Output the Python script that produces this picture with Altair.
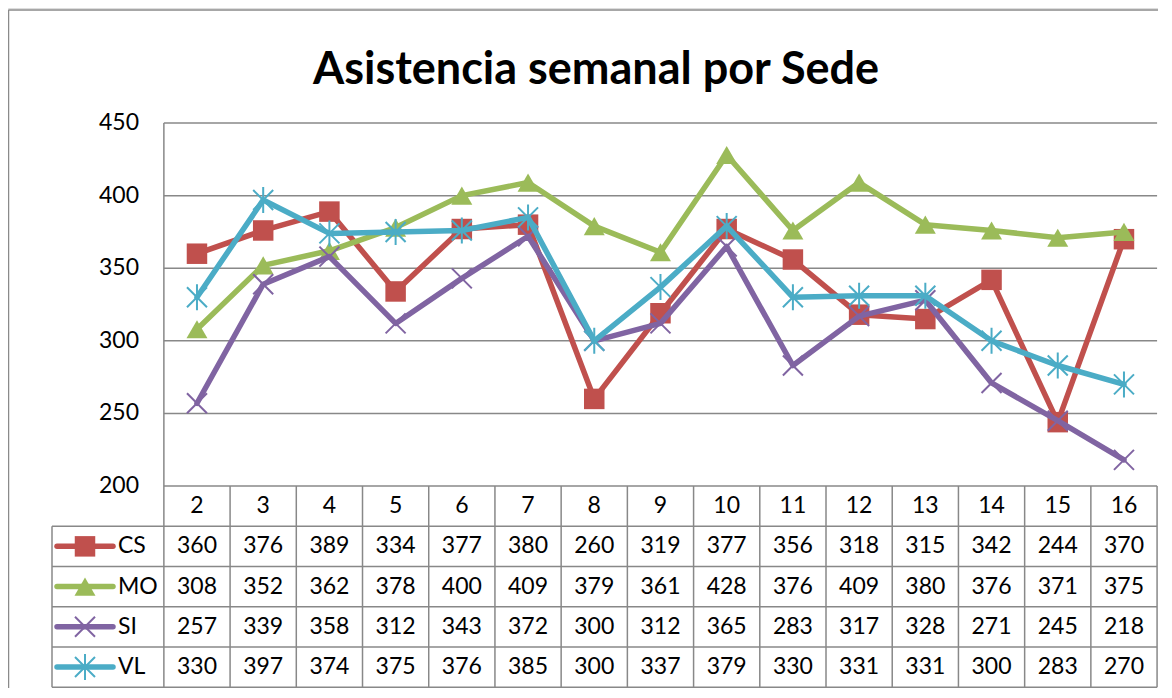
import altair as alt
import pandas as pd

# ---------------- data ----------------
weeks = [2, 3, 4, 5, 6, 7, 8, 9, 10, 11, 12, 13, 14, 15, 16]
cs = [360, 376, 389, 334, 377, 380, 260, 319, 377, 356, 318, 315, 342, 244, 370]
mo = [308, 352, 362, 378, 400, 409, 379, 361, 428, 376, 409, 380, 376, 371, 375]
si = [257, 339, 358, 312, 343, 372, 300, 312, 365, 283, 317, 328, 271, 245, 218]
vl = [330, 397, 374, 375, 376, 385, 300, 337, 379, 330, 331, 331, 300, 283, 270]
series_names = ["CS", "MO", "SI", "VL"]
series_values = [cs, mo, si, vl]
series_colors = ["#C0504D", "#9BBB59", "#8064A2", "#4BACC6"]
y_ticks = [200, 250, 300, 350, 400, 450]
title_text = "Asistencia semanal por Sede"

# ---------------- layout (scale domains) ----------------
W, H = 1150, 680
PX_X = 66.214          # px per week
PX_Y = 1.452           # px per attendance unit
X0 = -0.854
X1 = X0 + W / PX_X
ROW = 27.7             # table row height in y units
Y0 = 200 - 5 * ROW - 0.6
Y1 = Y0 + H / PX_Y
XL = X0 + 44 / PX_X    # left edge of legend column
FONT = "Lato"
GRID = "#888888"
FS = 23

xs = alt.Scale(domain=[X0, X1], nice=False, zero=False)
ys = alt.Scale(domain=[Y0, Y1], nice=False, zero=False)


def X(f="x"):
    return alt.X(f"{f}:Q", scale=xs, axis=None)


def Y(f="y"):
    return alt.Y(f"{f}:Q", scale=ys, axis=None)


layers = []

# outer frame (left and top edges)
frame_h = pd.DataFrame({"x": [X0 + 0.5 / PX_X], "x2": [X1 + 1], "y": [Y1 - 2 / PX_Y]})
frame_v = pd.DataFrame({"x": [X0 + 0.5 / PX_X], "y": [Y1 - 2 / PX_Y], "y2": [Y0 - 5]})
layers.append(alt.Chart(frame_h).mark_rule(color="#8a8a8a", strokeWidth=1.5).encode(
    x=X(), x2="x2:Q", y=Y()))
layers.append(alt.Chart(frame_v).mark_rule(color="#8a8a8a", strokeWidth=1.5).encode(
    x=X(), y=Y(), y2="y2:Q"))

# title
title_df = pd.DataFrame({"x": [X0 + 588 / PX_X], "y": [Y1 - 62 / PX_Y], "t": [title_text]})
layers.append(alt.Chart(title_df).mark_text(
    font=FONT, fontSize=45, fontWeight="bold", color="black", baseline="middle", align="center"
).encode(x=X(), y=Y(), text="t:N"))

# gridlines
grid_df = pd.DataFrame({"y": [v for v in y_ticks if v > 200], "x": [1.5] * 5, "x2": [16.5] * 5})
layers.append(alt.Chart(grid_df).mark_rule(color=GRID, strokeWidth=1.5).encode(
    x=X(), x2="x2:Q", y=Y()))

# y tick labels
yl = pd.DataFrame({"x": [X0 + 131 / PX_X] * len(y_ticks), "y": y_ticks, "t": [str(v) for v in y_ticks]})
layers.append(alt.Chart(yl).mark_text(font=FONT, fontSize=FS, color="black", baseline="middle",
                                      align="right").encode(x=X(), y=Y(), text="t:N"))

# table horizontal lines
hl = pd.DataFrame({
    "y": [200] + [200 - ROW * i for i in range(1, 6)],
    "x": [1.5] + [XL] * 5,
    "x2": [16.5] * 6,
})
layers.append(alt.Chart(hl).mark_rule(color=GRID, strokeWidth=1.5).encode(
    x=X(), x2="x2:Q", y=Y()))

# table vertical lines
vlines = pd.DataFrame({
    "x": [XL, 1.5] + [w + 0.5 for w in weeks],
    "y": [200 - ROW, 450] + [200] * len(weeks),
    "y2": [200 - 5 * ROW] * (2 + len(weeks)),
})
layers.append(alt.Chart(vlines).mark_rule(color=GRID, strokeWidth=1.5).encode(
    x=X(), y=Y(), y2="y2:Q"))

# header row (weeks)
hdr = pd.DataFrame({"x": weeks, "y": [200 - ROW / 2] * len(weeks), "t": [str(w) for w in weeks]})
layers.append(alt.Chart(hdr).mark_text(font=FONT, fontSize=FS, color="black", baseline="middle").encode(
    x=X(), y=Y(), text="t:N"))

shapes = {
    "CS": dict(shape="square", filled=True, size=420),
    "MO": dict(shape="triangle-up", filled=True, size=440),
    "SI": dict(shape="M-1,-1L1,1M1,-1L-1,1", filled=False, size=400, strokeWidth=2),
    "VL": dict(shape="M-1,-1L1,1M1,-1L-1,1M0,-1.3L0,1.3", filled=False, size=400, strokeWidth=2),
}

leg_a = X0 + 49 / PX_X
leg_b = X0 + 105 / PX_X
leg_c = (leg_a + leg_b) / 2
leg_t = X0 + 110 / PX_X

for i, (name, vals, col) in enumerate(zip(series_names, series_values, series_colors)):
    df = pd.DataFrame({"x": weeks, "y": vals})
    layers.append(alt.Chart(df).mark_line(color=col, strokeWidth=5.5, strokeJoin="round",
                                          strokeCap="round").encode(x=X(), y=Y()))
    layers.append(alt.Chart(df).mark_point(color=col, opacity=1, **shapes[name]).encode(x=X(), y=Y()))

    ry = 200 - ROW * (i + 1.5)
    # table values
    tdf = pd.DataFrame({"x": weeks, "y": [ry] * len(weeks), "t": [str(v) for v in vals]})
    layers.append(alt.Chart(tdf).mark_text(font=FONT, fontSize=FS, color="black", baseline="middle").encode(
        x=X(), y=Y(), text="t:N"))
    # legend key
    ldf = pd.DataFrame({"x": [leg_a], "x2": [leg_b], "y": [ry]})
    layers.append(alt.Chart(ldf).mark_rule(color=col, strokeWidth=5.5, strokeCap="round").encode(
        x=X(), x2="x2:Q", y=Y()))
    pdf = pd.DataFrame({"x": [leg_c], "y": [ry]})
    layers.append(alt.Chart(pdf).mark_point(color=col, opacity=1, **shapes[name]).encode(x=X(), y=Y()))
    ndf = pd.DataFrame({"x": [leg_t], "y": [ry], "t": [name]})
    layers.append(alt.Chart(ndf).mark_text(font=FONT, fontSize=FS, color="black", baseline="middle",
                                           align="left").encode(x=X(), y=Y(), text="t:N"))

chart = alt.layer(*layers).properties(
    width=W, height=H, padding=0,
    autosize=alt.AutoSizeParams(type="none"),
).configure_view(stroke=None).configure(background="white")

chart.save("out.html", embed_options={"renderer": "svg", "actions": False})
